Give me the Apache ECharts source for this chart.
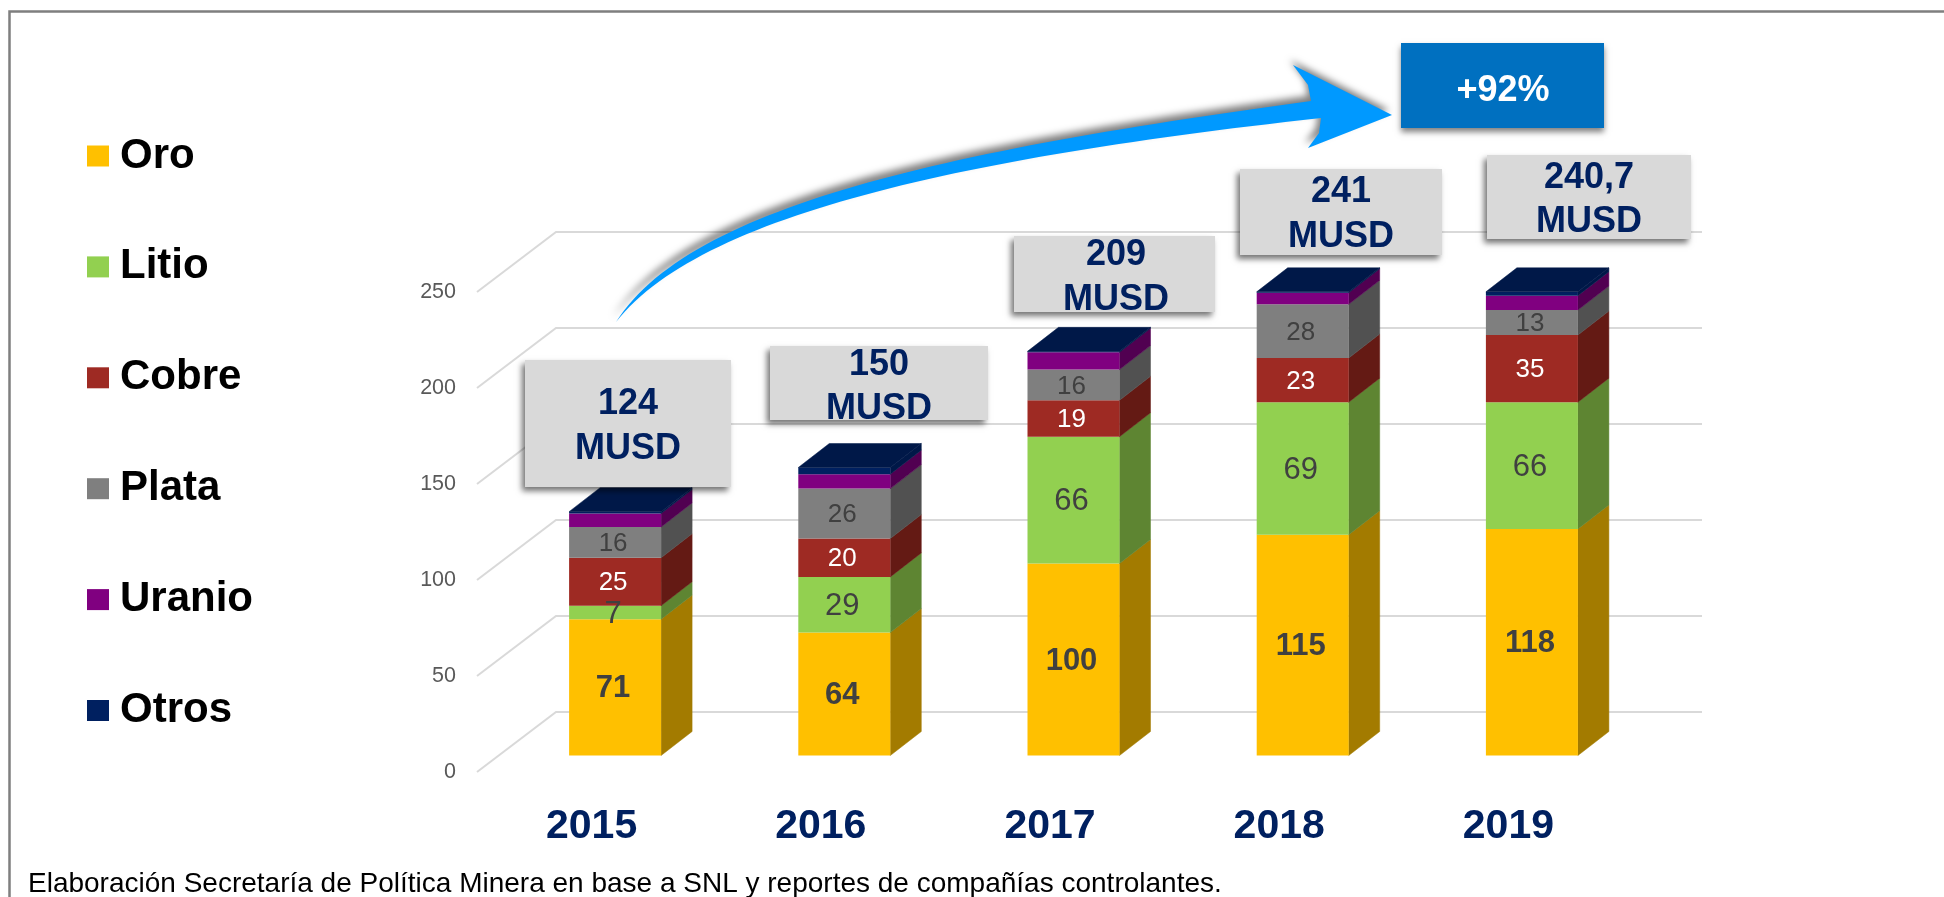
<!DOCTYPE html>
<html>
<head>
<meta charset="utf-8">
<style>html,body{margin:0;padding:0;background:#fff}#c{width:1944px;height:897px}</style>
<script src="https://cdn.jsdelivr.net/npm/echarts@6/dist/echarts.min.js"></script>
</head>
<body>
<div id="c"></div>
<script>
const years = ['2015','2016','2017','2018','2019'];
const oro    = [71, 64, 100, 115, 118];
const litio  = [7, 29, 66, 69, 66];
const cobre  = [25, 20, 19, 23, 35];
const plata  = [16, 26, 16, 28, 13];
const uranio = [7, 7.5, 9, 6, 7.5];
const otros  = [1, 3.5, 0.5, 0.5, 2];
const totals = ['124','150','209','241','240,7'];
const growth = '+92%';
const source = 'Elaboración Secretaría de Política Minera en base a SNL y reportes de compañías controlantes.';
const yTicks = [0, 50, 100, 150, 200, 250];

const metals = [
  {name:'Oro',    data:oro,    front:'#FFC000', side:'#A37B00', label:'#404040', size:31, bold:true},
  {name:'Litio',  data:litio,  front:'#92D050', side:'#5E8532', label:'#404040', size:31},
  {name:'Cobre',  data:cobre,  front:'#9E2A23', side:'#641A14', label:'#FFFFFF', size:26},
  {name:'Plata',  data:plata,  front:'#7F7F7F', side:'#515151', label:'#404040', size:26},
  {name:'Uranio', data:uranio, front:'#800080', side:'#510051', label:null},
  {name:'Otros',  data:otros,  front:'#002060', side:'#001848', label:null, top:'#001848'}
];

// Depth geometry of the 3-D look: bars stand partway into the floor.
const FLOOR = {dx:79, dy:60};
const BAR = {offX:23.5, offY:16.5, depthX:31, depthY:24, halfW:46};

const wallSeries = {
  type:'custom', name:'walls', silent:true, z:1,
  coordinateSystem:'cartesian2d',
  encode:{y:0},
  data:yTicks.map(v=>[v]),
  renderItem(params, api){
    const rect = params.coordSys;
    const y = api.coord([0, api.value(0)])[1];
    return {type:'polyline', shape:{points:[
      [rect.x, y],
      [rect.x+FLOOR.dx, y-FLOOR.dy],
      [rect.x+rect.width+FLOOR.dx, y-FLOOR.dy]
    ]}, style:{stroke:'#D9D9D9', lineWidth:2, fill:null}};
  }
};

function stackBase(idx, cat){
  let s = 0;
  for(let i=0;i<idx;i++) s += metals[i].data[cat];
  return s;
}

const barSeries = metals.map((m, idx)=>({
  type:'custom', name:m.name, z:3,
  coordinateSystem:'cartesian2d',
  itemStyle:{color:m.front},
  encode:{x:0, y:1},
  data:m.data.map((v,i)=>[years[i], v, stackBase(idx,i), i]),
  renderItem(params, api){
    const base = api.value(2), val = api.value(1);
    const p0 = api.coord([api.value(3), base]);
    const p1 = api.coord([api.value(3), base+val]);
    const cx = p0[0]+BAR.offX;
    const yb = p0[1]-BAR.offY, yt = p1[1]-BAR.offY;
    const l = cx-BAR.halfW, r = cx+BAR.halfW;
    const d = BAR.depthX, e = BAR.depthY;
    const kids = [
      {type:'polygon', shape:{points:[[r,yb],[r+d,yb-e],[r+d,yt-e],[r,yt]]}, style:{fill:m.side, stroke:m.side, lineWidth:0.5}},
      {type:'rect', shape:{x:l,y:yt,width:r-l,height:yb-yt}, style:{fill:m.front}}
    ];
    if(m.top){
      kids.push({type:'polygon', shape:{points:[[l,yt],[l+d,yt-e],[r+d,yt-e],[r,yt]]}, style:{fill:m.top, stroke:m.top, lineWidth:0.5}});
    }
    if(m.label){
      kids.push({type:'text', z2:5, style:{
        text:String(val), x:cx-2, y:(yb+yt)/2+1.5, align:'center', verticalAlign:'middle',
        fill:m.label, font:(m.bold?'bold ':'')+m.size+'px "Liberation Sans"'
      }});
    }
    return {type:'group', children:kids};
  }
}));

// Annotation call-outs: [left, top, right, bottom, textX, line1Y, line2Y]
const boxes = [
  [525,360,731,487,628,404,449],
  [770,346,988,420,879,365,409],
  [1014,236,1215,312,1116,255,300],
  [1240,169,1442,255,1341,192,237],
  [1487,155,1691,239,1589,178,222]
];
const boxGraphics = [];
boxes.forEach((b,i)=>{
  boxGraphics.push({type:'rect', z:10, shape:{x:b[0],y:b[1],width:b[2]-b[0],height:b[3]-b[1]},
    style:{fill:'#D9D9D9', shadowColor:'rgba(0,0,0,0.55)', shadowBlur:6, shadowOffsetX:-3, shadowOffsetY:4}});
  boxGraphics.push({type:'text', z:11, style:{text:totals[i], x:b[4], y:b[5], align:'center', verticalAlign:'middle',
    fill:'#002060', font:'bold 36px "Liberation Sans"'}});
  boxGraphics.push({type:'text', z:11, style:{text:'MUSD', x:b[4], y:b[6], align:'center', verticalAlign:'middle',
    fill:'#002060', font:'bold 36px "Liberation Sans"'}});
});

// Growth arrow outline
function cubic(p0,p1,p2,p3,n){
  const out=[];
  for(let i=0;i<=n;i++){
    const t=i/n,u=1-t;
    out.push([u*u*u*p0[0]+3*u*u*t*p1[0]+3*u*t*t*p2[0]+t*t*t*p3[0],
              u*u*u*p0[1]+3*u*u*t*p1[1]+3*u*t*t*p2[1]+t*t*t*p3[1]]);
  }
  return out;
}
const arrowOutline = [
  ...cubic([616,322],[690,205],[950,150],[1311,101],60),
  [1308,85],[1293,65],[1392,115],[1308,148],[1319,133],
  ...cubic([1321,118],[960,158],[700,215],[616,322],60)
];

const option = {
  animation:false,
  backgroundColor:'#fff',
  grid:{left:477, top:292, width:1146, height:480, containLabel:false},
  xAxis:{type:'category', data:years,
    axisLine:{show:false}, axisTick:{show:false},
    axisLabel:{margin:34, color:'#002060', fontFamily:'Liberation Sans', fontWeight:'bold', fontSize:41}},
  yAxis:{type:'value', min:0, max:250, interval:50,
    axisLine:{show:false}, axisTick:{show:false}, splitLine:{show:false},
    axisLabel:{margin:21, color:'#595959', fontFamily:'Liberation Sans', fontSize:21.5}},
  legend:{left:82, top:130, orient:'vertical', icon:'rect', itemWidth:22, itemHeight:21, itemGap:68.9,
    selectedMode:false,
    data:metals.map(m=>m.name),
    textStyle:{color:'#000', fontFamily:'Liberation Sans', fontWeight:'bold', fontSize:42, lineHeight:41, padding:[0,0,0,6]}},
  series:[wallSeries, ...barSeries],
  graphic:[
    {type:'polyline', z:0, shape:{points:[[9.5,897],[9.5,11.5],[1944,11.5]]}, style:{fill:null, stroke:'#7F7F7F', lineWidth:2.5}},
    {type:'text', z:12, style:{text:source, x:28, y:884, verticalAlign:'middle', fill:'#000', font:'28px "Liberation Sans"'}},
    ...boxGraphics,
    {type:'polygon', z:9, shape:{points:arrowOutline},
      style:{fill:'#0099FF', shadowColor:'rgba(0,0,0,0.5)', shadowBlur:7, shadowOffsetX:-3, shadowOffsetY:-5}},
    {type:'rect', z:10, shape:{x:1401,y:43,width:203,height:85},
      style:{fill:'#0070C0', shadowColor:'rgba(0,0,0,0.5)', shadowBlur:6, shadowOffsetX:0, shadowOffsetY:4}},
    {type:'text', z:11, style:{text:growth, x:1503, y:91, align:'center', verticalAlign:'middle', fill:'#fff', font:'bold 36px "Liberation Sans"'}}
  ]
};
const chart = echarts.init(document.getElementById('c'), null, {renderer:'canvas'});
chart.setOption(option);
</script>
</body>
</html>
